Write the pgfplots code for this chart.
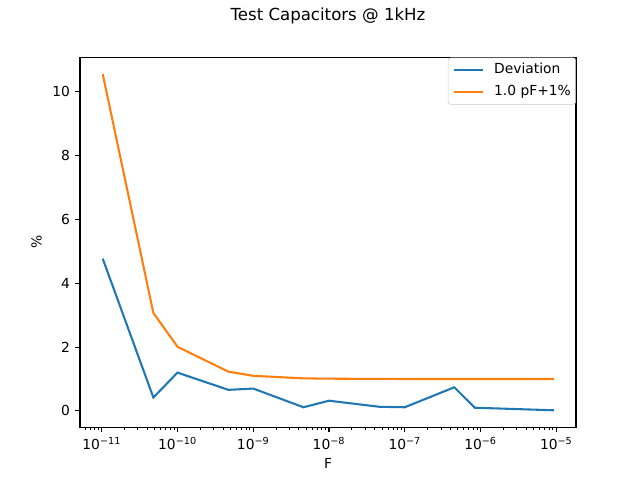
\documentclass[border=0pt]{standalone}
\usepackage{pgfplots}
\pgfplotsset{compat=1.18}
\usepackage{fontspec}
\setmainfont{DejaVu Sans}
\definecolor{tabblue}{HTML}{1F77B4}
\definecolor{taborange}{HTML}{FF7F0E}
\begin{document}
\fontsize{10}{12}\selectfont
\begin{tikzpicture}
\begin{axis}[
  xmode=log,
  scale only axis,
  width=358.46pt, height=267.11pt,
  at={(0,0)}, anchor=south west,
  xmin=5.16e-12, xmax=1.82e-5,
  ymin=-0.51, ymax=11.07,
  /pgf/number format/assume math mode=true,
  tick pos=left,
  tick align=outside,
  major tick length=3.5pt,
  minor tick length=2pt,
  every major tick/.append style={line width=0.8pt, black},
  every minor tick/.append style={line width=0.6pt, black},
  axis line style={line width=0.8pt},
  xtick={1e-11,1e-10,1e-9,1e-8,1e-7,1e-6,1e-5},
  xticklabels={10\textsuperscript{−11},10\textsuperscript{−10},10\textsuperscript{−9},10\textsuperscript{−8},10\textsuperscript{−7},10\textsuperscript{−6},10\textsuperscript{−5}},
  minor xtick={6e-12,7e-12,8e-12,9e-12,
    2e-11,3e-11,4e-11,5e-11,6e-11,7e-11,8e-11,9e-11,
    2e-10,3e-10,4e-10,5e-10,6e-10,7e-10,8e-10,9e-10,
    2e-9,3e-9,4e-9,5e-9,6e-9,7e-9,8e-9,9e-9,
    2e-8,3e-8,4e-8,5e-8,6e-8,7e-8,8e-8,9e-8,
    2e-7,3e-7,4e-7,5e-7,6e-7,7e-7,8e-7,9e-7,
    2e-6,3e-6,4e-6,5e-6,6e-6,7e-6,8e-6,9e-6},
  ytick={0,2,4,6,8,10},
  yticklabels={0,2,4,6,8,10},
  every tick label/.append style={font=\fontsize{10}{12}\selectfont, inner sep=0pt},
  xticklabel style={anchor=north, yshift=-3.5pt},
  yticklabel style={anchor=east, xshift=-3.5pt},
  xlabel={F},
  xlabel style={at={(axis description cs:0.5,-0.1104)}, anchor=base, inner sep=0pt},
  ylabel={\%},
  ylabel style={at={(axis description cs:-0.0873,0.5)}, anchor=center, inner sep=0pt},
  title={Test Capacitors @ 1kHz},
  title style={at={(axis description cs:0.5,1.0774)}, anchor=base, inner sep=0pt, font=\fontsize{12}{14}\selectfont},
  legend cell align=left,
  legend style={at={(1,1)}, anchor=north east, draw=white!80!black, fill=white, fill opacity=0.8, text opacity=1,
    rounded corners=2pt, inner xsep=3.5pt, inner ysep=4pt, row sep=6pt, column sep=7.6pt,
    font=\fontsize{10}{12}\selectfont,
    nodes={inner sep=0pt, anchor=west, text height=7.6pt, text depth=2.2pt}},
  legend image code/.code={\draw[#1] (0pt,0pt) -- (20.7pt,0pt);},
]
\addplot[tabblue, line width=1.5pt] coordinates {
(1.03e-11,4.77) (4.8e-11,0.42) (1e-10,1.20) (4.7e-10,0.66) (1e-9,0.70) (4.6e-9,0.115)
(1e-8,0.32) (4.6e-8,0.13) (1e-7,0.115) (4.5e-7,0.74) (8.4e-7,0.10) (9.3e-6,0.02)};
\addlegendentry{Deviation}
\addplot[taborange, line width=1.5pt] coordinates {
(1.03e-11,10.55) (4.8e-11,3.07) (1e-10,2.01) (4.7e-10,1.23) (1e-9,1.10) (4.6e-9,1.02)
(1e-8,1.01) (4.6e-8,1.002) (1e-7,1.001) (4.5e-7,1.0) (8.4e-7,1.0) (9.3e-6,1.0)};
\addlegendentry{1.0 pF+1\%}
\end{axis}
\path[use as bounding box] (-57.82pt,-38.16pt) rectangle (404.71pt,308.74pt);
\end{tikzpicture}
\end{document}
